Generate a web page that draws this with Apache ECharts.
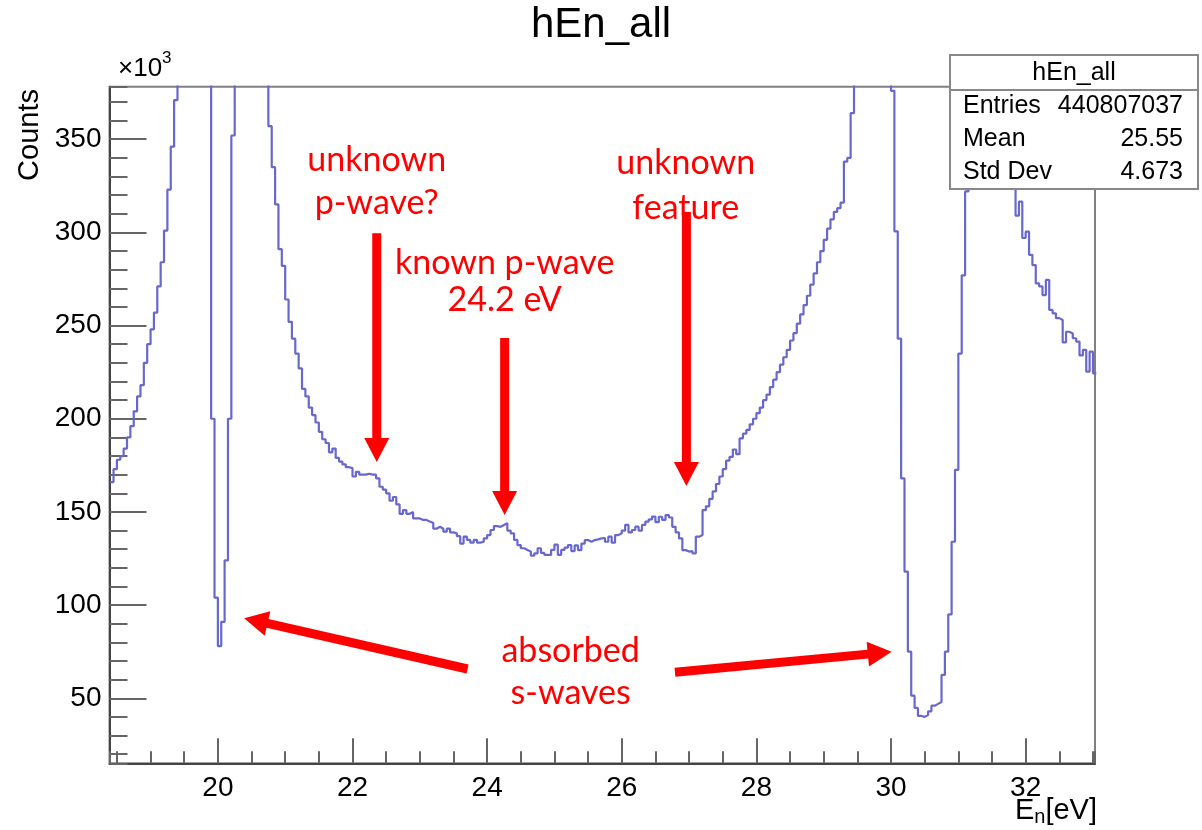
<!DOCTYPE html>
<html>
<head>
<meta charset="utf-8">
<title>hEn_all</title>
<script src="https://cdn.jsdelivr.net/npm/echarts@6/dist/echarts.min.js"></script>
<style>
  html, body { margin: 0; padding: 0; background: #ffffff; }
  #chart { width: 1202px; height: 830px; }
</style>
</head>
<body>
<div id="chart"></div>
<script>
// Histogram hEn_all: neutron energy spectrum, counts in units of 10^3 per 0.05 eV bin
const binStart = 18.40;   // eV, low edge of first bin
const binWidth = 0.05;    // eV
const counts = [
  // 18.40 - 18.95
  166, 173, 178, 180, 184, 190, 196, 204, 212, 218, 230, 240,
  // 19.00 - 19.95
  248, 257, 271, 284, 301, 323, 346, 371, 398, 425, 455, 490, 530, 570, 610, 640, 600, 520, 200, 104,
  // 20.00 - 20.95
  78, 91, 124, 200, 352, 520, 650, 700, 660, 600, 540, 490, 450, 415, 390, 357, 335, 315, 291, 282,
  // 21.00 - 21.95
  264, 252, 243, 235, 227, 216, 212, 206, 202, 198, 193, 189, 187, 182, 184, 179, 177, 175.5, 174, 173.5,
  // 22.00 - 22.95
  169, 171.5, 170, 170, 170.5, 170, 170, 168, 163.5, 162, 160, 156, 158, 154, 149, 151, 149, 150, 146.5, 146.5,
  // 23.00 - 23.95
  145.7, 145.7, 144.8, 144, 141, 142, 141, 139.4, 141, 139, 138.5, 137, 133, 136.7, 135, 133.5, 135, 133.5, 134, 135.8,
  // 24.00 - 24.95
  137.6, 140.3, 142.4, 142, 143, 144, 140, 138.5, 135, 132.2, 130.5, 129.6, 128.7, 126.5, 127.8, 130.5, 128, 126.9, 126.9, 129.6,
  // 25.00 - 25.95
  132.5, 127, 129.6, 130.8, 132.2, 129, 132, 129.5, 133, 134.9, 134, 134.9, 135.3, 135.8, 136, 134, 136.7, 133.5, 137.6, 138.5,
  // 26.00 - 26.95
  140, 143, 139, 140.3, 142.1, 140, 143, 144.8, 146, 147.5, 144.5, 147.4, 145.7, 148.3, 147, 142, 139, 135.8, 129.5, 128.7,
  // 27.00 - 27.95
  129, 127.8, 136.7, 137.6, 151, 153, 157, 161, 165, 169, 173, 177.5, 179.5, 183.5, 181, 189.5, 192, 194, 197, 200,
  // 28.00 - 28.95
  203, 206, 210, 213, 217, 221, 225, 229, 233, 237, 242, 246, 251, 256, 261, 266, 272, 278, 284, 290,
  // 29.00 - 29.95
  296, 302, 307, 311, 313, 316, 338, 340, 364, 395, 430, 470, 520, 570, 620, 680, 720, 700, 620, 520,
  // 30.00 - 30.95
  376, 300.6, 243, 168, 118, 75, 51.4, 44.8, 40.5, 40, 41, 43, 46, 47, 48, 62.5, 75, 95, 134, 172.6,
  // 31.00 - 31.95
  235, 277, 322, 410, 440, 450, 440, 425, 410, 398, 388, 378, 370, 362, 356, 350, 345, 309, 316.5, 297,
  // 32.00 - 32.95
  300.4, 288, 282.5, 272.7, 271, 266.4, 274.5, 258.4, 256.6, 254, 253, 241, 246.7, 245.8, 243.2, 241.4, 234, 237, 225.3, 236,
  // 33.00
  224.4
];

// Axis ranges and tick labels
const xRange = [18.39, 33.03];
const yRange = [15.1, 378.2];
const xTickLabels = [20, 22, 24, 26, 28, 30, 32];
const yTickLabels = [50, 100, 150, 200, 250, 300, 350];

// Statistics box contents
const statsTitle = 'hEn_all';
const statsNames = ['Entries', 'Mean', 'Std Dev'];
const statsValues = ['440807037', '25.55', '4.673'];

// Annotations (data coordinates: eV, 10^3 counts)
const noteLines = [
  { text: 'unknown',      at: [22.36, 338.9] },
  { text: 'p-wave?',      at: [22.36, 315.8] },
  { text: 'known p-wave', at: [24.26, 283.6] },
  { text: '24.2 eV',      at: [24.26, 263.8] },
  { text: 'unknown',      at: [26.95, 337.3] },
  { text: 'feature',      at: [26.95, 313.1] },
  { text: 'absorbed',     at: [25.24, 75.4] },
  { text: 's-waves',      at: [25.24, 52.9] }
];
const arrows = [
  { from: [22.36, 299.6], to: [22.36, 176.8] },
  { from: [24.26, 243.4], to: [24.26, 148.4] },
  { from: [26.96, 311.0], to: [26.96, 163.9] },
  { from: [23.71, 65.7],  to: [20.39, 93.0] },
  { from: [26.79, 64.0],  to: [30.01, 74.9] }
];

const histPoints = counts.map((v, i) => [+(binStart + i * binWidth).toFixed(3), v]);
histPoints.push([+(binStart + counts.length * binWidth).toFixed(3), counts[counts.length - 1]]);

const FONT = '"Liberation Sans", Arial, Helvetica, sans-serif';
const NOTE_FONT = 'Lato, "Open Sans", sans-serif';
const RED = '#ff0000';

const chart = echarts.init(document.getElementById('chart'), null, { renderer: 'canvas' });

const baseAxis = {
  type: 'value',
  splitLine: { show: false }
};

const option = {
  animation: false,
  backgroundColor: '#ffffff',
  grid: {
    left: 109.5, right: 107, top: 86.7, bottom: 66.7,
    containLabel: false,
    show: true, borderColor: '#808080', borderWidth: 2, backgroundColor: 'transparent'
  },
  xAxis: [
    Object.assign({}, baseAxis, {
      min: xRange[0], max: xRange[1], minInterval: 2, maxInterval: 2, splitNumber: 7,
      position: 'bottom',
      axisLine: { show: true, onZero: false, lineStyle: { color: '#444', width: 2 } },
      axisTick: { show: true, inside: true, length: 25, lineStyle: { color: '#666', width: 2 } },
      axisLabel: {
        show: true, margin: 11, color: '#000', fontFamily: FONT, fontSize: 28,
        showMinLabel: false, showMaxLabel: false,
        formatter: v => (xTickLabels.indexOf(Math.round(v * 1000) / 1000) >= 0 ? String(v) : '')
      }
    }),
    Object.assign({}, baseAxis, {
      min: xRange[0], max: xRange[1], minInterval: 0.5, maxInterval: 0.5, splitNumber: 30,
      position: 'bottom',
      axisLine: { show: false, onZero: false },
      axisTick: { show: true, inside: true, length: 12, lineStyle: { color: '#666', width: 2 } },
      axisLabel: { show: false }
    })
  ],
  yAxis: [
    Object.assign({}, baseAxis, {
      min: yRange[0], max: yRange[1], minInterval: 50, maxInterval: 50, splitNumber: 7,
      position: 'left',
      axisLine: { show: true, onZero: false, lineStyle: { color: '#444', width: 2 } },
      axisTick: { show: true, inside: true, length: 37, lineStyle: { color: '#666', width: 2 } },
      axisLabel: {
        show: true, margin: 8, color: '#000', fontFamily: FONT, fontSize: 28,
        showMinLabel: false, showMaxLabel: false,
        formatter: v => (yTickLabels.indexOf(Math.round(v)) >= 0 && Math.abs(v - Math.round(v)) < 1e-6 ? String(v) : '')
      }
    }),
    Object.assign({}, baseAxis, {
      min: yRange[0], max: yRange[1], minInterval: 10, maxInterval: 10, splitNumber: 36,
      position: 'left',
      axisLine: { show: false, onZero: false },
      axisTick: { show: true, inside: true, length: 18, lineStyle: { color: '#666', width: 2 } },
      axisLabel: { show: false }
    })
  ],
  series: [{
    type: 'line',
    name: 'hEn_all',
    xAxisIndex: 0,
    yAxisIndex: 0,
    data: histPoints,
    step: 'end',
    symbol: 'none',
    clip: true,
    lineStyle: { color: '#6868cc', width: 2.2 },
    z: 3
  }]
};

chart.setOption(option);

function toPx(p) { return chart.convertToPixel({ xAxisIndex: 0, yAxisIndex: 0 }, p); }

function arrowPoints(from, to, shaft, headLen, headW) {
  const a = toPx(from), b = toPx(to);
  const dx = b[0] - a[0], dy = b[1] - a[1];
  const len = Math.hypot(dx, dy);
  const ux = dx / len, uy = dy / len;
  const nx = -uy, ny = ux;
  const bx = b[0] - ux * headLen, by = b[1] - uy * headLen;
  const s = shaft / 2, h = headW / 2;
  return [
    [a[0] + nx * s, a[1] + ny * s],
    [bx + nx * s, by + ny * s],
    [bx + nx * h, by + ny * h],
    [b[0], b[1]],
    [bx - nx * h, by - ny * h],
    [bx - nx * s, by - ny * s],
    [a[0] - nx * s, a[1] - ny * s]
  ];
}

const graphics = [];

// Title
graphics.push({
  type: 'text', x: 601, y: 25, z: 100,
  style: { text: 'hEn_all', font: '42px ' + FONT, fill: '#000', align: 'center', verticalAlign: 'middle' }
});

// Y-axis title and exponent
graphics.push({
  type: 'text', x: 30, y: 135, rotation: Math.PI / 2, z: 100,
  style: { text: 'Counts', font: '29px ' + FONT, fill: '#000', align: 'center', verticalAlign: 'middle' }
});
graphics.push({
  type: 'text', x: 118, y: 66, z: 100,
  style: {
    text: '{m|×10}{s|3}',
    verticalAlign: 'middle', align: 'left',
    rich: {
      m: { fontFamily: FONT, fontSize: 26, fill: '#000', color: '#000', lineHeight: 32, verticalAlign: 'bottom' },
      s: { fontFamily: FONT, fontSize: 17, fill: '#000', color: '#000', lineHeight: 32, verticalAlign: 'top' }
    }
  }
});

// X-axis title
graphics.push({
  type: 'text', x: 1097, y: 811, z: 100,
  style: {
    text: '{m|E}{s|n}{m|[eV]}',
    align: 'right', verticalAlign: 'middle',
    rich: {
      m: { fontFamily: FONT, fontSize: 29, fill: '#000', color: '#000', lineHeight: 32, verticalAlign: 'middle' },
      s: { fontFamily: FONT, fontSize: 20, fill: '#000', color: '#000', lineHeight: 32, verticalAlign: 'bottom' }
    }
  }
});

// Statistics box
graphics.push({
  type: 'rect', z: 100,
  shape: { x: 950, y: 55, width: 248, height: 134 },
  style: { fill: '#ffffff', stroke: '#888888', lineWidth: 2 }
});
graphics.push({
  type: 'line', z: 101,
  shape: { x1: 950, y1: 90, x2: 1198, y2: 90 },
  style: { stroke: '#888888', lineWidth: 2 }
});
graphics.push({
  type: 'text', x: 1074, y: 73, z: 101,
  style: { text: statsTitle, font: '25px ' + FONT, fill: '#000', align: 'center', verticalAlign: 'middle' }
});
const rowY = [106, 139, 172];
statsNames.forEach((name, i) => {
  graphics.push({
    type: 'text', x: 963, y: rowY[i], z: 101,
    style: { text: name, font: '25px ' + FONT, fill: '#000', align: 'left', verticalAlign: 'middle' }
  });
  graphics.push({
    type: 'text', x: 1183, y: rowY[i], z: 101,
    style: { text: statsValues[i], font: '25px ' + FONT, fill: '#000', align: 'right', verticalAlign: 'middle' }
  });
});

// Red annotations
arrows.forEach(a => {
  graphics.push({
    type: 'polygon', z: 90,
    shape: { points: arrowPoints(a.from, a.to, 9, 24, 25) },
    style: { fill: RED, stroke: null }
  });
});
noteLines.forEach(n => {
  const p = toPx(n.at);
  graphics.push({
    type: 'text', x: p[0], y: p[1], z: 90,
    style: { text: n.text, font: '34px ' + NOTE_FONT, fill: RED, align: 'center', verticalAlign: 'middle' }
  });
});

chart.setOption({ graphic: graphics });
</script>
</body>
</html>
